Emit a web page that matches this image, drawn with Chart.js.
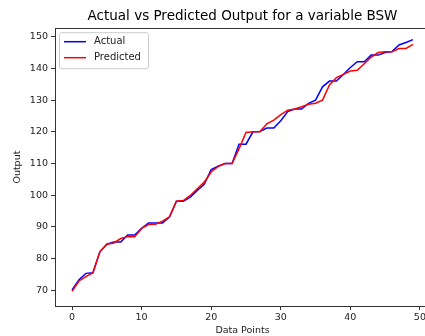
<!DOCTYPE html>
<html>
<head>
<meta charset="utf-8">
<script src="https://cdn.jsdelivr.net/npm/chart.js@4/dist/chart.umd.min.js"></script>
<style>
    html, body { margin: 0; padding: 0; background: #fff; overflow: hidden; }
    #wrap { width: 430px; height: 336px; }
</style>
</head>
<body>
<div id="wrap"><canvas id="chart"></canvas></div>
<script>
const DATA_POINTS = [0, 1, 2, 3, 4, 5, 6, 7, 8, 9, 10, 11, 12, 13, 14, 15, 16, 17, 18, 19,
    20, 21, 22, 23, 24, 25, 26, 27, 28, 29, 30, 31, 32, 33, 34, 35, 36, 37, 38, 39,
    40, 41, 42, 43, 44, 45, 46, 47, 48, 49];
const ACTUAL = [70.1, 73.3, 75.3, 75.5, 82.1, 84.5, 85.2, 85.2, 87.4, 87.4,
    89.5, 91.2, 91.2, 91.2, 93.1, 98.1, 98.1, 99.4, 101.5, 103.4,
    108.1, 109.1, 110.0, 110.0, 116.1, 116.1, 120.0, 120.1, 121.2, 121.2,
    123.5, 126.4, 127.2, 127.2, 129.0, 130.0, 134.2, 136.0, 136.0, 138.1,
    140.3, 142.1, 142.1, 144.2, 144.2, 145.0, 145.3, 147.4, 148.2, 149.1];
const PREDICTED = [69.6, 72.9, 74.3, 75.5, 82.1, 84.5, 84.9, 86.3, 86.9, 86.9,
    89.5, 90.7, 90.8, 91.8, 93.1, 98.1, 98.3, 99.9, 102.0, 104.1,
    107.3, 109.1, 110.0, 110.0, 114.6, 119.8, 120.0, 120.0, 122.5, 123.7,
    125.4, 126.8, 127.2, 127.9, 128.7, 129.0, 130.0, 134.8, 137.1, 138.1,
    139.2, 139.4, 141.5, 143.6, 145.0, 145.3, 145.3, 146.3, 146.3, 147.6];
const X_TICKS = [0, 10, 20, 30, 40, 50];
const Y_TICKS = [70, 80, 90, 100, 110, 120, 130, 140, 150];

const FONT = 'DejaVu Sans';
const TEXT_COLOR = '#222';

// frame round the plot (top / right spines too)
const framePlugin = {
    id: 'frame',
    afterDraw(chart) {
        const a = chart.chartArea;
        const ctx = chart.ctx;
        ctx.save();
        ctx.strokeStyle = '#333';
        ctx.lineWidth = 1;
        ctx.strokeRect(Math.round(a.left) + 0.5, Math.round(a.top) + 0.5,
            Math.round(a.right - a.left), Math.round(a.bottom - a.top));
        ctx.restore();
    }
};

// matplotlib style legend in the upper left corner
const legendPlugin = {
    id: 'mplLegend',
    afterDraw(chart) {
        const a = chart.chartArea;
        const ctx = chart.ctx;
        const x0 = a.left + 4, y0 = a.top + 4;
        const w = 89, h = 36;
        ctx.save();
        ctx.fillStyle = 'rgba(255,255,255,0.8)';
        ctx.strokeStyle = '#ccc';
        ctx.lineWidth = 1;
        ctx.beginPath();
        ctx.roundRect(x0 + 0.5, y0 + 0.5, w, h, 2);
        ctx.fill();
        ctx.stroke();
        ctx.font = '10px "' + FONT + '"';
        ctx.textBaseline = 'middle';
        chart.data.datasets.forEach((ds, i) => {
            const y = y0 + 9.5 + i * 16;
            ctx.strokeStyle = ds.borderColor;
            ctx.lineWidth = 1.5;
            ctx.beginPath();
            ctx.moveTo(x0 + 5, y);
            ctx.lineTo(x0 + 27, y);
            ctx.stroke();
            ctx.fillStyle = TEXT_COLOR;
            ctx.fillText(ds.label, x0 + 35, y);
        });
        ctx.restore();
    }
};

const ctx = document.getElementById('chart').getContext('2d');
const chart = new Chart(ctx, {
    type: 'line',
    data: {
        datasets: [
            {
                label: 'Actual',
                data: DATA_POINTS.map((x, i) => ({x: x, y: ACTUAL[i]})),
                borderColor: '#0000ff',
                backgroundColor: '#0000ff',
                borderWidth: 1.5,
                pointRadius: 0,
                tension: 0,
                order: 2
            },
            {
                label: 'Predicted',
                data: DATA_POINTS.map((x, i) => ({x: x, y: PREDICTED[i]})),
                borderColor: '#ff0000',
                backgroundColor: '#ff0000',
                borderWidth: 1.5,
                pointRadius: 0,
                tension: 0,
                order: 1
            }
        ]
    },
    options: {
        responsive: true,
        maintainAspectRatio: false,
        animation: false,
        events: [],
        layout: { padding: 0 },
        plugins: {
            legend: { display: false },
            tooltip: { enabled: false },
            title: {
                display: true,
                fullSize: false,
                text: 'Actual vs Predicted Output for a variable BSW',
                color: '#000',
                font: { family: FONT, size: 13.5, weight: 'normal' },
                padding: { top: 8, bottom: 4 }
            }
        },
        scales: {
            x: {
                type: 'linear',
                min: -2.45,
                max: 51.45,
                afterBuildTicks: (s) => { s.ticks = X_TICKS.map(v => ({value: v})); },
                afterFit: (s) => { s.height = 30; },
                grid: { drawOnChartArea: false, drawTicks: true, tickLength: 4, color: '#333' },
                border: { display: true, color: '#333', width: 1 },
                ticks: { color: TEXT_COLOR, font: { family: FONT, size: 9.5 }, padding: 2, maxRotation: 0 },
                title: {
                    display: true,
                    text: 'Data Points',
                    color: TEXT_COLOR,
                    font: { family: FONT, size: 9.5 },
                    padding: { top: 0, bottom: 0 }
                }
            },
            y: {
                type: 'linear',
                min: 65.0,
                max: 152.7,
                afterBuildTicks: (s) => { s.ticks = Y_TICKS.map(v => ({value: v})); },
                afterFit: (s) => { s.width = 55; },
                grid: { drawOnChartArea: false, drawTicks: true, tickLength: 4, color: '#333' },
                border: { display: true, color: '#333', width: 1 },
                ticks: { color: TEXT_COLOR, font: { family: FONT, size: 9.5 }, padding: 3 },
                title: {
                    display: true,
                    text: 'Output',
                    color: TEXT_COLOR,
                    font: { family: FONT, size: 9.5 },
                    padding: { top: 12, bottom: 0 }
                }
            }
        }
    },
    plugins: [framePlugin, legendPlugin]
});
</script>
</body>
</html>
